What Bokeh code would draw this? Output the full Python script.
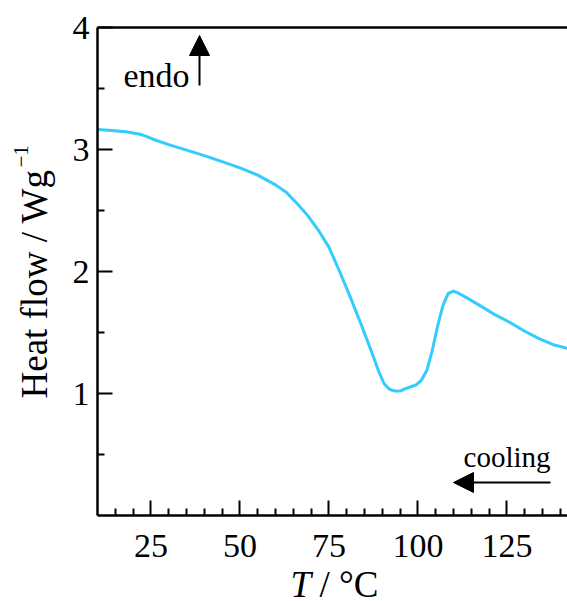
from bokeh.plotting import figure
from bokeh.models import (Range1d, FixedTicker, LinearAxis, Label, Arrow, NormalHead)
from bokeh.embed import file_html
from bokeh.resources import INLINE
import math

# Data (cooling)
temperature = [10, 14, 18, 22, 23.5, 26, 30, 35, 40, 45, 50, 55, 60, 63, 66, 69, 72, 75,
               78, 81, 84, 87, 89, 90.5, 92, 93.5, 95, 96.5, 98, 99.5, 101, 102.5, 104,
               105.5, 107, 108.5, 110, 111.5, 114, 118, 122, 126, 130, 134, 138, 142]
heat_flow = [3.163, 3.155, 3.145, 3.125, 3.11, 3.08, 3.04, 2.995, 2.95, 2.90, 2.85, 2.79,
             2.71, 2.65, 2.56, 2.46, 2.34, 2.20, 2.00, 1.79, 1.57, 1.34, 1.18, 1.08, 1.035,
             1.02, 1.02, 1.04, 1.055, 1.07, 1.11, 1.19, 1.35, 1.55, 1.72, 1.82, 1.84, 1.82,
             1.78, 1.71, 1.64, 1.58, 1.51, 1.45, 1.40, 1.37]

x_bounds = (10, 142)
y_bounds = (0, 4)
x_major = [25, 50, 75, 100, 125]
x_minor = [15, 20, 30, 35, 40, 45, 55, 60, 65, 70, 80, 85, 90, 95, 105, 110, 115, 120, 130, 135, 140]
y_major = [1, 2, 3, 4]
y_minor = [0.5, 1.5, 2.5, 3.5]

FONT = "Liberation Serif"
FS = "34px"
TITLE_FS = "37px"

W, H = 567, 601
FL, FT, FB = 97, 27, 515            # plot-box edges in pixels
PX_X = (W - FL) / (x_bounds[1] - x_bounds[0])
PX_Y = (FB - FT) / (y_bounds[1] - y_bounds[0])

def dx(px):
    return x_bounds[0] + (px - FL) / PX_X

def dy(py):
    return y_bounds[0] + (FB - py) / PX_Y

p = figure(width=W, height=H, output_backend="svg", toolbar_location=None,
           x_range=Range1d(dx(0), dx(W)), y_range=Range1d(dy(H), dy(0)),
           min_border=0, x_axis_type=None, y_axis_type=None)
p.outline_line_color = None
p.xgrid.visible = False
p.ygrid.visible = False
p.background_fill_color = "white"
p.border_fill_color = "white"

def style_axis(ax):
    ax.axis_line_color = "black"
    ax.axis_line_width = 2.5
    ax.major_tick_line_color = "black"
    ax.major_tick_line_width = 2
    ax.minor_tick_line_color = "black"
    ax.minor_tick_line_width = 2
    ax.major_tick_in = 15
    ax.major_tick_out = 0
    ax.minor_tick_in = 7
    ax.minor_tick_out = 0
    ax.major_label_text_font = FONT
    ax.major_label_text_font_size = FS
    ax.major_label_text_color = "black"

xaxis = LinearAxis(ticker=FixedTicker(ticks=x_major, minor_ticks=x_minor),
                   fixed_location=y_bounds[0], bounds=x_bounds)
style_axis(xaxis)
xaxis.major_label_standoff = 19
p.add_layout(xaxis, "below")

yaxis = LinearAxis(ticker=FixedTicker(ticks=y_major, minor_ticks=y_minor),
                   fixed_location=x_bounds[0], bounds=y_bounds)
style_axis(yaxis)
yaxis.major_label_standoff = 8
p.add_layout(yaxis, "left")

top = LinearAxis(ticker=FixedTicker(ticks=[]), fixed_location=y_bounds[1], bounds=x_bounds)
top.axis_line_color = "black"
top.axis_line_width = 2.5
top.major_label_text_font_size = "0px"
top.major_tick_line_color = None
top.minor_tick_line_color = None
p.add_layout(top, "above")

p.line(temperature, heat_flow, line_color="#33ccff", line_width=3)

# Annotations
p.add_layout(Label(x=dx(189), y=dy(75), text="endo", text_align="right", text_baseline="alphabetic",
                   text_font=FONT, text_font_size=FS, text_color="black"))
p.add_layout(Arrow(end=NormalHead(size=20, fill_color="black", line_color="black"),
                   x_start=dx(199), y_start=dy(85), x_end=dx(199), y_end=dy(35),
                   line_color="black", line_width=2))
p.add_layout(Label(x=dx(550), y=dy(456), text="cooling", text_align="right", text_baseline="alphabetic",
                   text_font=FONT, text_font_size="29px", text_color="black"))
p.add_layout(Arrow(end=NormalHead(size=20, fill_color="black", line_color="black"),
                   x_start=dx(550), y_start=dy(482), x_end=dx(453), y_end=dy(482),
                   line_color="black", line_width=2))

# Axis titles
p.add_layout(Label(x=dx(290), y=dy(584), text="T", text_align="left",
                   text_baseline="alphabetic", text_font=FONT, text_font_size=TITLE_FS,
                   text_font_style="italic", text_color="black"))
p.add_layout(Label(x=dx(319), y=dy(584), text="/ °C", text_align="left",
                   text_baseline="alphabetic", text_font=FONT, text_font_size=TITLE_FS,
                   text_color="black"))
p.add_layout(Label(x=dx(34), y=dy(398), text="Heat flow / Wg",
                   angle=math.pi / 2, text_align="left", text_baseline="alphabetic",
                   text_font=FONT, text_font_size=TITLE_FS, text_color="black"))
p.add_layout(Label(x=dx(20), y=dy(167), text="\u22121",
                   angle=math.pi / 2, text_align="left", text_baseline="alphabetic",
                   text_font=FONT, text_font_size="21px", text_color="black"))

open("out.html", "w").write(file_html(p, INLINE))
